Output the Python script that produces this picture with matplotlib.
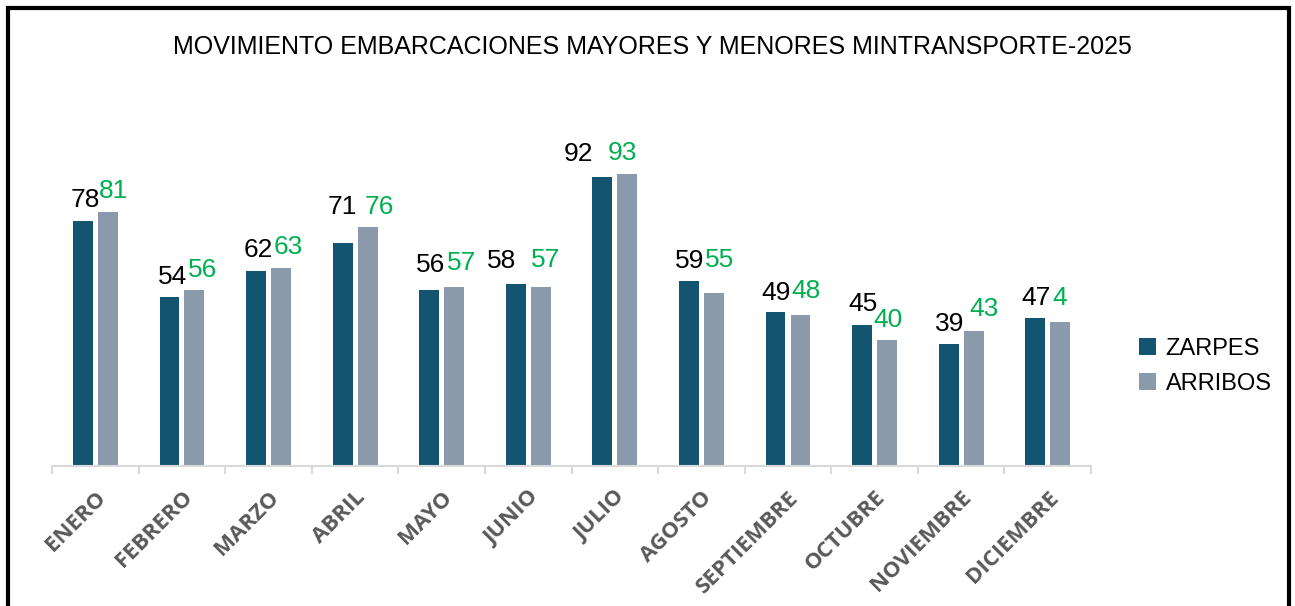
import matplotlib
matplotlib.use('Agg')
import numpy as np
import matplotlib.pyplot as plt
from matplotlib import font_manager
from matplotlib.patches import Rectangle

# data
meses = ['ENERO', 'FEBRERO', 'MARZO', 'ABRIL', 'MAYO', 'JUNIO', 'JULIO',
         'AGOSTO', 'SEPTIEMBRE', 'OCTUBRE', 'NOVIEMBRE', 'DICIEMBRE']
zarpes = [78, 54, 62, 71, 56, 58, 92, 59, 49, 45, 39, 47]
arribos = [81, 56, 63, 76, 57, 57, 93, 55, 48, 40, 43, 46]
# labels as printed in the chart (last one is cut off)
zarpes_txt = ['78', '54', '62', '71', '56', '58', '92', '59', '49', '45', '39', '47']
arribos_txt = ['81', '56', '63', '76', '57', '57', '93', '55', '48', '40', '43', '4']

# hand placed label offsets (pixels) like in the source sheet
z_off = [(2, 14), (3, 13), (2, 14), (0, 29), (1, 18), (-14, 16),
         (-24, 16), (1, 13), (1, 12), (1, 14), (1, 13), (1, 13)]
a_off = [(6, 14), (8, 13), (7, 14), (12, 13), (7, 17), (5, 20),
         (-5, 14), (6, 26), (6, 17), (1, 13), (10, 15), (-1, 17)]

C_ZAR = '#135470'
C_ARR = '#8A9AAB'
C_GREEN = '#00B050'

names = {f.name for f in font_manager.fontManager.ttflist}
plt.rcParams['font.family'] = ['Liberation Sans', 'DejaVu Sans']
title_font = 'Liberation Sans Narrow' if 'Liberation Sans Narrow' in names else 'Liberation Sans'
tick_font = 'Open Sans' if 'Open Sans' in names else 'Liberation Sans'

fig = plt.figure(figsize=(12.95, 6.06), dpi=100)
ax = fig.add_axes([0.0402, 0.231, 0.8023, 0.518])

x = np.arange(len(meses))
w = 0.23
d = 0.144
b1 = ax.bar(x - d, zarpes, w, color=C_ZAR, label='ZARPES')
b2 = ax.bar(x + d, arribos, w, color=C_ARR, label='ARRIBOS')

for i in range(len(meses)):
    ax.annotate(zarpes_txt[i], (x[i] - d, zarpes[i]), xytext=z_off[i],
                textcoords='offset pixels', ha='center', va='baseline',
                fontsize=19, color='black')
    ax.annotate(arribos_txt[i], (x[i] + d, arribos[i]), xytext=a_off[i],
                textcoords='offset pixels', ha='center', va='baseline',
                fontsize=19, color=C_GREEN)

ax.set_xlim(-0.5, len(meses) - 0.5)
ax.set_ylim(0, 100)
for s in ['top', 'right', 'left']:
    ax.spines[s].set_visible(False)
ax.spines['bottom'].set_color('#D9D9D9')
ax.spines['bottom'].set_linewidth(1.5)
ax.set_yticks([])

ax.set_xticks(x)
ax.set_xticklabels(meses, rotation=45, ha='right', rotation_mode='anchor',
                   fontsize=16, fontweight='bold', color='#595959',
                   family=tick_font)
ax.tick_params(axis='x', which='major', length=0, pad=15)
ax.set_xticks(np.arange(-0.5, len(meses)), minor=True)
ax.tick_params(axis='x', which='minor', length=6, width=1.5, color='#D9D9D9')

fig.text(0.504, 0.922, 'MOVIMIENTO EMBARCACIONES MAYORES Y MENORES MINTRANSPORTE-2025',
         ha='center', va='center', fontsize=18, family=title_font, color='black')

leg = fig.legend(handles=[b1, b2], loc='upper left', bbox_to_anchor=(0.8635, 0.478),
                 frameon=False, fontsize=17, handlelength=0.7, handleheight=0.7,
                 handletextpad=0.4, labelspacing=0.55)

# black frame around the chart (bottom edge is cut off in the source)
fig.patches.append(Rectangle((8 / 1295, -0.05), 1281 / 1295, 1.05 - 8 / 606,
                             transform=fig.transFigure, fill=False,
                             edgecolor='black', linewidth=3))

fig.savefig('out.png', dpi=100)
